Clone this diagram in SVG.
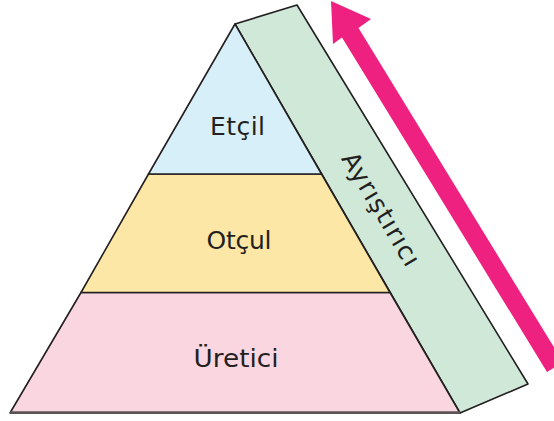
<svg xmlns="http://www.w3.org/2000/svg" width="554" height="421" viewBox="0 0 554 421">
<style>
.edge{stroke:#231f20;stroke-width:1.6;stroke-linejoin:round}
.lbl{font-family:"DejaVu Sans","Liberation Sans",sans-serif;font-size:25px;fill:#231f20;text-anchor:middle}
</style>
<rect width="554" height="421" fill="#ffffff"/>
<g id="arrow">
<polygon points="331,1 371,19 358.5,28 563,362 547,372 342,37.5 333,44" fill="#ee2180"/>
</g>
<g id="ayristirici">
<polygon class="edge" points="235,24 297,5 528,384 460,413" fill="#cfe8d8"/>
<text class="lbl" x="381" y="209" dominant-baseline="central" textLength="128" lengthAdjust="spacing" transform="rotate(59 381 209)">Ayrıştırıcı</text>
</g>
<g id="uretici">
<polygon class="edge" points="81,292.5 390,292.5 460,413 10,413" fill="#f9d6e0"/>
<line x1="10" y1="412.5" x2="460" y2="412.5" stroke="#5c5457" stroke-width="2.5"/>
<text class="lbl" x="236" y="367" textLength="85" lengthAdjust="spacingAndGlyphs">Üretici</text>
</g>
<g id="otcul">
<polygon class="edge" points="148.5,174 321.5,174 390,292.5 81,292.5" fill="#fde7a6"/>
<text class="lbl" x="239" y="248.5" textLength="65" lengthAdjust="spacing">Otçul</text>
</g>
<g id="etcil">
<polygon class="edge" points="235,24 321.5,174 148.5,174" fill="#d7eff9"/>
<text class="lbl" x="237.5" y="135" textLength="55" lengthAdjust="spacing">Etçil</text>
</g>
</svg>
